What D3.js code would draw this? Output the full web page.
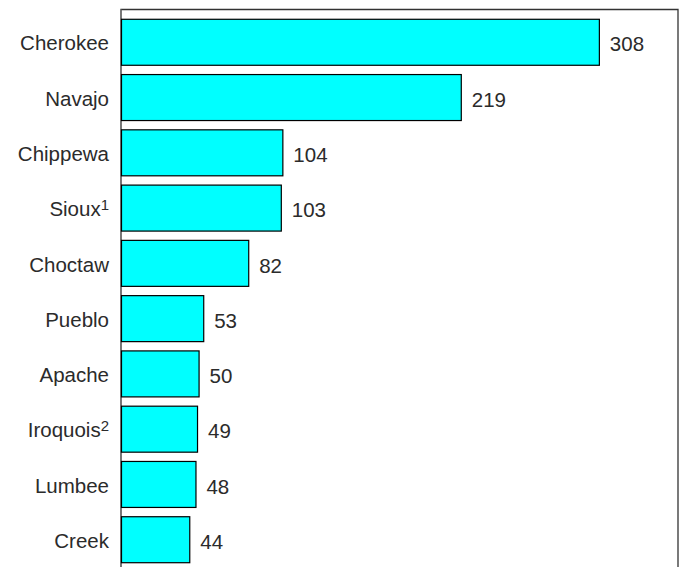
<!DOCTYPE html>
<html><head><meta charset="utf-8">
<script src="https://cdn.jsdelivr.net/npm/d3@7"></script>
<style>body{margin:0;background:#fff}svg{display:block}text{font-family:"Liberation Sans",Arial,sans-serif;fill:#2b2b2b}</style>
</head><body><div id="c"></div>
<script>
const categories = ["Cherokee","Navajo","Chippewa","Sioux","Choctaw","Pueblo","Apache","Iroquois","Lumbee","Creek"];
const footnotes = ["","","","1","","","","2","",""];
const values = [308,219,104,103,82,53,50,49,48,44];

const W=680,H=567;
const svg=d3.select("#c").append("svg").attr("width",W).attr("height",H);
const mLeft=121,mRight=678,mTop=9.5;
const x=d3.scaleLinear().domain([0,359]).range([mLeft,mRight]);
const y=d3.scaleBand().domain(categories).range([10,572]).padding(0.168);

// frame
svg.append("path").attr("d",`M${mLeft},${H+2}V${mTop}H${mRight}V${H+2}`).attr("fill","none").attr("stroke","#333").attr("stroke-width",1.3);
svg.append("line").attr("x1",mLeft).attr("x2",mLeft).attr("y1",mTop).attr("y2",H+2).attr("stroke","#777").attr("stroke-width",1.3);

svg.selectAll("rect.bar").data(values).join("rect").attr("class","bar")
 .attr("x",x(0)+0.5).attr("y",(d,i)=>y(categories[i]))
 .attr("width",d=>x(d)-x(0)).attr("height",y.bandwidth())
 .attr("fill","#00FFFF").attr("stroke","#000").attr("stroke-width",1.2);

svg.selectAll("text.val").data(values).join("text").attr("class","val")
 .attr("x",d=>x(d)+11).attr("y",(d,i)=>y(categories[i])+y.bandwidth()/2+2)
 .attr("dy","0.35em").attr("font-size",20.5).text(d=>d);

const lab=svg.selectAll("text.cat").data(categories).join("text").attr("class","cat")
 .attr("x",109).attr("y",(d,i)=>y(d)+y.bandwidth()/2+1)
 .attr("dy","0.35em").attr("text-anchor","end").attr("font-size",20.5);
lab.append("tspan").text(d=>d);
lab.append("tspan").attr("dy","-0.42em").attr("font-size",15).text((d,i)=>footnotes[i]);
</script></body></html>
